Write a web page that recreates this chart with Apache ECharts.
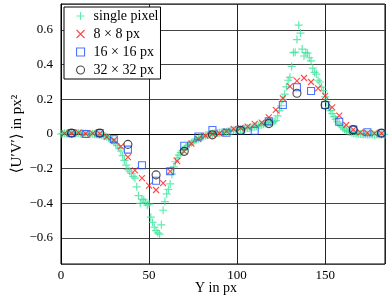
<!DOCTYPE html>
<html>
<head>
<meta charset="utf-8">
<script src="https://cdn.jsdelivr.net/npm/echarts@6/dist/echarts.min.js"></script>
<style>
  html, body { margin: 0; padding: 0; background: #fff; }
  #chart { width: 388px; height: 298px; }
</style>
</head>
<body>
<div id="chart"></div>
<script>
// single pixel: one value per px, starting at Y = 0
const pixelY = [
	0.000, 0.002, 0.004, 0.003, 0.005, 0.004, 0.006, 0.005, 0.004, 0.006,
	0.005, 0.003, 0.004, 0.002, 0.001, 0.002, 0.000, -0.002, 0.001, -0.001,
	-0.002, -0.003, -0.004, -0.006, -0.008, -0.012, -0.016, -0.021, -0.028, -0.036,
	-0.044, -0.055, -0.067, -0.082, -0.098, -0.125, -0.152, -0.180, -0.205, -0.215,
	-0.228, -0.245, -0.255, -0.305, -0.355, -0.400, -0.376, -0.380, -0.394, -0.410,
	-0.405, -0.480, -0.510, -0.538, -0.557, -0.570, -0.578, -0.524, -0.440, -0.390,
	-0.345, -0.320, -0.288, -0.232, -0.190, -0.160, -0.138, -0.122, -0.108, -0.095,
	-0.085, -0.075, -0.066, -0.058, -0.050, -0.044, -0.038, -0.032, -0.027, -0.022,
	-0.017, -0.013, -0.009, -0.006, -0.003, 0.000, 0.002, 0.003, 0.004, 0.006,
	0.007, 0.009, 0.010, 0.012, 0.013, 0.015, 0.017, 0.019, 0.021, 0.023,
	0.024, 0.026, 0.027, 0.029, 0.030, 0.032, 0.034, 0.036, 0.038, 0.040,
	0.042, 0.044, 0.047, 0.050, 0.053, 0.056, 0.060, 0.064, 0.068, 0.070,
	0.066, 0.072, 0.078, 0.105, 0.135, 0.163, 0.200, 0.230, 0.272, 0.310,
	0.327, 0.390, 0.470, 0.472, 0.545, 0.628, 0.582, 0.490, 0.450, 0.470,
	0.467, 0.440, 0.422, 0.380, 0.355, 0.346, 0.310, 0.300, 0.270, 0.250,
	0.215, 0.185, 0.154, 0.135, 0.118, 0.100, 0.086, 0.070, 0.058, 0.045,
	0.036, 0.028, 0.020, 0.015, 0.011, 0.008, 0.005, 0.003, 0.002, 0.001,
	0.000, -0.001, -0.002, -0.002, -0.003, -0.003, -0.002, -0.003, -0.004, -0.003,
	-0.003, -0.002, -0.003, -0.002, -0.003
];

// 8 x 8 px
const win8X = [2, 6, 10, 14, 18, 22, 26, 30, 34, 38, 42, 46, 50, 54, 58, 62, 66, 70, 74, 78, 82, 86, 90,
	94, 98, 102, 106, 110, 114, 118, 122, 126, 130, 134, 138, 142, 146, 150, 154, 158, 162, 166, 170, 174, 178, 182];
const win8Y = [0.004, 0.005, 0.008, 0.002, 0.003, 0.002, -0.016, -0.036, -0.072, -0.134, -0.210, -0.254, -0.298,
	-0.323, -0.284, -0.215, -0.157, -0.100, -0.056, -0.030, -0.010, 0.000, 0.004, 0.015, 0.029, 0.035, 0.043,
	0.058, 0.065, 0.096, 0.139, 0.205, 0.275, 0.307, 0.323, 0.300, 0.263, 0.220, 0.154, 0.106, 0.052, 0.025,
	0.010, 0.006, 0.004, 0.004];

// 16 x 16 px
const win16X = [6, 14, 22, 30, 38, 46, 54, 62, 70, 78, 86, 94, 102, 110, 118, 126, 134, 142, 150, 158, 166, 174, 182];
const win16Y = [0.005, 0.000, 0.005, -0.030, -0.090, -0.180, -0.270, -0.215, -0.068, -0.014, 0.023, 0.007,
	0.020, 0.019, 0.073, 0.167, 0.270, 0.248, 0.167, 0.071, 0.025, 0.010, 0.004];

// 32 x 32 px
const win32X = [6, 22, 38, 54, 70, 86, 102, 118, 134, 150, 166, 182];
const win32Y = [0.005, 0.005, -0.060, -0.236, -0.100, -0.005, 0.020, 0.060, 0.235, 0.167, 0.025, 0.005];

const serif = '"Liberation Serif", "DejaVu Serif", serif';
const minus = ( v ) => String( v ).replace( '-', '\u2212' );
const pairs = ( xs, ys ) => ys.map( ( y, i ) => [ xs[ i ], y ] );

const PLUS = 'path://M5,0L5,10M0,5L10,5';
const CROSS = 'path://M0,0L10,10M10,0L0,10';

const styles = [
	{ name: 'single pixel', symbol: PLUS, size: 8, color: '#3fe39c' },
	{ name: '8 \u00d7 8 px', symbol: CROSS, size: 6, color: '#ff1a1a' },
	{ name: '16 \u00d7 16 px', symbol: 'rect', size: 7, color: '#2050ff' },
	{ name: '32 \u00d7 32 px', symbol: 'circle', size: 8, color: '#1a1a1a' }
];

const chart = echarts.init( document.getElementById( 'chart' ), null, { renderer: 'canvas' } );

const series = [
	pixelY.map( ( y, i ) => [ i, y ] ),
	pairs( win8X, win8Y ),
	pairs( win16X, win16Y ),
	pairs( win32X, win32Y )
].map( ( data, i ) => ( {
	name: styles[ i ].name,
	type: 'scatter',
	symbol: styles[ i ].symbol,
	symbolSize: styles[ i ].size,
	silent: true,
	itemStyle: { color: 'rgba(0,0,0,0)', borderColor: styles[ i ].color, borderWidth: i === 0 ? 1.2 : 1.1 },
	data
} ) );

const option = {
	animation: false,
	backgroundColor: '#fff',
	textStyle: { fontFamily: serif },
	grid: {
		left: 61, right: 3, top: 4, bottom: 34,
		outerBoundsMode: 'none',
		containLabel: false,
		show: true, borderColor: '#000', borderWidth: 1
	},
	legend: {
		left: 64, top: 7,
		orient: 'vertical',
		backgroundColor: '#fff',
		borderColor: '#000',
		borderWidth: 1,
		padding: [ 2, 2, 2, 12 ],
		itemWidth: 8,
		itemHeight: 8,
		itemGap: 4,
		selectedMode: false,
		textStyle: { fontFamily: serif, fontSize: 14, color: '#000', lineHeight: 14, padding: [ 0, 0, 0, 4 ] },
		data: styles.map( ( s ) => ( {
			name: s.name,
			icon: s.symbol,
			itemStyle: { color: 'rgba(0,0,0,0)', borderColor: s.color, borderWidth: 1.1 }
		} ) )
	},
	xAxis: {
		type: 'value',
		min: 0, max: 184, interval: 50,
		name: 'Y in px',
		nameLocation: 'middle',
		nameGap: 17,
		nameMoveOverlap: false,
		nameTextStyle: { fontFamily: serif, fontSize: 14, color: '#000', padding: [ 0, 14, 0, 0 ] },
		axisLine: { show: true, lineStyle: { color: '#000' } },
		axisTick: { show: false },
		axisLabel: { fontFamily: serif, fontSize: 13, color: '#000', margin: 5, showMaxLabel: false },
		splitLine: { show: true, lineStyle: { color: '#222', width: 1 } }
	},
	yAxis: {
		type: 'value',
		min: -0.75, max: 0.75, splitNumber: 7,
		name: '\u27e8U\u2032V\u2032\u27e9 in px\u00b2',
		nameLocation: 'middle',
		nameGap: 36,
		nameMoveOverlap: false,
		nameTextStyle: { fontFamily: serif, fontSize: 15, color: '#000' },
		axisLine: { show: true, lineStyle: { color: '#000' } },
		axisTick: { show: false },
		axisLabel: {
			fontFamily: serif, fontSize: 13, color: '#000', margin: 8,
			showMinLabel: false, showMaxLabel: false,
			formatter: ( v ) => minus( Math.round( v * 10 ) / 10 )
		},
		splitLine: { show: true, lineStyle: { color: '#444', width: 1 } }
	},
	series
};

chart.setOption( option );
</script>
</body>
</html>
